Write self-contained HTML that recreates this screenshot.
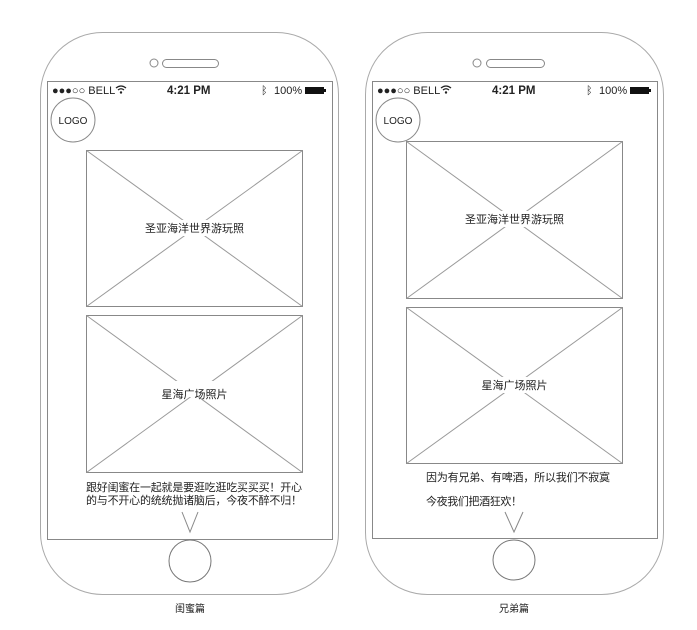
<!DOCTYPE html>
<html><head><meta charset="utf-8"><style>
html,body{margin:0;padding:0;background:#fff;}
svg{display:block;}
text{font-family:"Liberation Sans","Noto Sans CJK SC",sans-serif;fill:#222;}
</style></head><body>
<svg width="697" height="630" viewBox="0 0 697 630" xmlns="http://www.w3.org/2000/svg">
<g fill="none" stroke="#999" stroke-width="1">
<rect x="40.5" y="32.5" width="298" height="562" rx="62" stroke="#aaa"/>
<rect x="47.5" y="81.5" width="285" height="458" stroke="#888"/>
<circle cx="154" cy="63" r="4" stroke="#888"/>
<rect x="162.5" y="59.5" width="56" height="8" rx="4" stroke="#888"/>
<circle cx="73" cy="120" r="22" stroke="#888"/>
<rect x="86.5" y="150.5" width="216" height="156" stroke="#888"/>
<line x1="86.5" y1="150.5" x2="302.5" y2="306.5"/><line x1="302.5" y1="150.5" x2="86.5" y2="306.5"/>
<rect x="86.5" y="315.5" width="216" height="157" stroke="#888"/>
<line x1="86.5" y1="315.5" x2="302.5" y2="472.5"/><line x1="302.5" y1="315.5" x2="86.5" y2="472.5"/>
<polyline points="182,512 190,532 198,512" stroke="#888"/>
<ellipse cx="190" cy="561" rx="21" ry="21" stroke="#777"/>
<rect x="365.5" y="32.5" width="298" height="562" rx="62" stroke="#aaa"/>
<rect x="372.5" y="81.5" width="285" height="457" stroke="#888"/>
<circle cx="477" cy="63" r="4" stroke="#888"/>
<rect x="486.5" y="59.5" width="58" height="8" rx="4" stroke="#888"/>
<circle cx="398" cy="120" r="22" stroke="#888"/>
<rect x="406.5" y="141.5" width="216" height="157" stroke="#888"/>
<line x1="406.5" y1="141.5" x2="622.5" y2="298.5"/><line x1="622.5" y1="141.5" x2="406.5" y2="298.5"/>
<rect x="406.5" y="307.5" width="216" height="156" stroke="#888"/>
<line x1="406.5" y1="307.5" x2="622.5" y2="463.5"/><line x1="622.5" y1="307.5" x2="406.5" y2="463.5"/>
<polyline points="505,512 514,532 523,512" stroke="#888"/>
<ellipse cx="514" cy="560" rx="21" ry="20" stroke="#777"/>
</g>
<rect x="144" y="220" width="101" height="16" fill="#fff"/>
<rect x="162" y="381" width="66" height="16" fill="#fff"/>
<rect x="464" y="211" width="101" height="16" fill="#fff"/>
<rect x="481" y="377" width="66" height="16" fill="#fff"/>
<g font-size="11">
<text x="52" y="94">●●●○○ BELL</text>
<text x="167" y="94" font-weight="bold" font-size="11.5">4:21 PM</text>
<text x="261" y="94" fill="#aaa">ᛒ</text>
<text x="274" y="94">100%</text>
<text x="377" y="94">●●●○○ BELL</text>
<text x="492" y="94" font-weight="bold" font-size="11.5">4:21 PM</text>
<text x="586" y="94" fill="#aaa">ᛒ</text>
<text x="599" y="94">100%</text>
<text x="73" y="124" text-anchor="middle" font-size="10">LOGO</text>
<text x="398" y="124" text-anchor="middle" font-size="10">LOGO</text>
<text x="194.5" y="232" text-anchor="middle">圣亚海洋世界游玩照</text>
<text x="194.5" y="398" text-anchor="middle">星海广场照片</text>
<text x="514.5" y="223" text-anchor="middle">圣亚海洋世界游玩照</text>
<text x="514.5" y="389" text-anchor="middle">星海广场照片</text>
<text x="86" y="491" textLength="216">跟好闺蜜在一起就是要逛吃逛吃买买买！开心</text>
<text x="86" y="504" textLength="216">的与不开心的统统抛诸脑后，今夜不醉不归！</text>
<text x="426" y="481" textLength="184">因为有兄弟、有啤酒，所以我们不寂寞</text>
<text x="426" y="505" textLength="96">今夜我们把酒狂欢！</text>
<text x="190" y="612" text-anchor="middle" font-size="10">闺蜜篇</text>
<text x="514" y="612" text-anchor="middle" font-size="10">兄弟篇</text>
</g>
<g fill="none" stroke="#222" stroke-width="1.3">
<path d="M116 88 q5 -4 10 0 M118 90 q3 -2.5 6 0"/>
<path d="M441 88 q5 -4 10 0 M443 90 q3 -2.5 6 0"/>
</g>
<circle cx="121" cy="92.5" r="1.2" fill="#222"/>
<circle cx="446" cy="92.5" r="1.2" fill="#222"/>
<rect x="305" y="87" width="19" height="7" fill="#111"/><rect x="324" y="89" width="2" height="3" fill="#111"/>
<rect x="630" y="87" width="19" height="7" fill="#111"/><rect x="649" y="89" width="2" height="3" fill="#111"/>
</svg>
</body></html>
